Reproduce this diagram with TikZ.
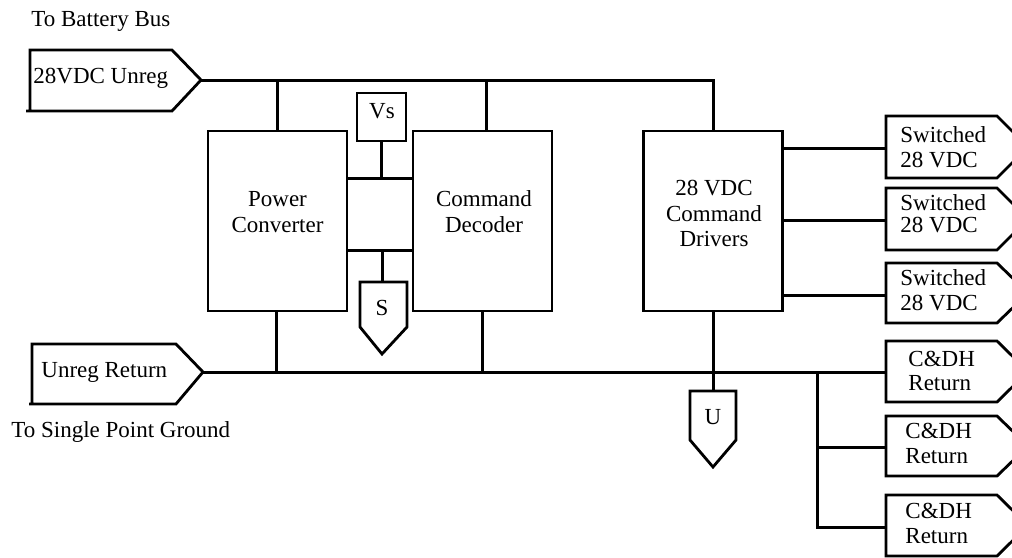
\documentclass[tikz,border=0pt]{standalone}
\usepackage{fontspec}
\setmainfont{Liberation Serif}
\begin{document}
\begin{tikzpicture}[x=1pt,y=-1pt, line width=2.8pt,
  box/.style={draw, rectangle, inner sep=0pt, line width=2.8pt},
  lbl/.style={font=\fontsize{23}{25}\selectfont, inner sep=0pt, anchor=base},
  lblw/.style={lbl, anchor=base west},
  wire/.style={line width=3pt},
  tag/.style={line width=2.8pt, line join=miter}]
\useasboundingbox (0,0) rectangle (1012,557);
\clip (0,0) rectangle (1012,557);

% ---------- blocks ----------
\node[box, minimum width=139pt, minimum height=180pt] (pc) at (277.5,221) {};
\node[box, minimum width=139pt, minimum height=180pt] (cd) at (482.5,221) {};
\node[box, minimum width=139pt, minimum height=180pt] (drv) at (713,221) {};
\node[box, minimum width=49pt, minimum height=48pt] (vs) at (381.5,117) {};

\node[lbl] (pc1) at (277.5,206) {Power};
\node[lbl] (pc2) at (277.5,232) {Converter};
\node[lbl] (cd1) at (484,206) {Command};
\node[lbl] (cd2) at (484,232) {Decoder};
\node[lbl] (dr1) at (714,195) {28 VDC};
\node[lbl] (dr2) at (714,221) {Command};
\node[lbl] (dr3) at (714,246) {Drivers};
\node[lbl] (vst) at (382,118) {Vs};

% ---------- connector tags ----------
% 28VDC Unreg (input, points right)
\draw[tag] (26,111) -- (172,111) -- (201,80) -- (172,50) -- (30,50) -- (30,111);
\coordinate (uin) at (201,80);
% Unreg Return
\draw[tag] (29,404) -- (176,404) -- (203,372) -- (176,344) -- (32,344) -- (32,404);
\coordinate (rin) at (203,372);
% S tag
\draw[tag] (360,282) -- (407,282) -- (407,327) -- (382,354) -- (360,327) -- cycle;
\coordinate (stop) at (382,282);
% U tag
\draw[tag] (690,391) -- (736,391) -- (736,440) -- (713,467) -- (690,440) -- cycle;
\coordinate (utop) at (713,391);
% Switched 28 VDC outputs
\draw[tag] (886,116) -- (997,116) -- (1028,147) -- (997,178) -- (886,178) -- cycle;
\draw[tag] (886,188) -- (997,188) -- (1028,219) -- (997,250) -- (886,250) -- cycle;
\draw[tag] (886,263) -- (997,263) -- (1028,293) -- (997,323) -- (886,323) -- cycle;
\coordinate (sw1) at (886,148);
\coordinate (sw2) at (886,220);
\coordinate (sw3) at (886,295);
% C&DH Return outputs
\draw[tag] (886,341) -- (997,341) -- (1028,371.5) -- (997,402) -- (886,402) -- cycle;
\draw[tag] (886,416) -- (997,416) -- (1028,446) -- (997,476) -- (886,476) -- cycle;
\draw[tag] (886,495) -- (997,495) -- (1028,525.5) -- (997,556) -- (886,556) -- cycle;
\coordinate (cr1) at (886,372);
\coordinate (cr2) at (886,447);
\coordinate (cr3) at (886,527);

% ---------- tag texts ----------
\node[lblw] (tbb) at (30,26) {To Battery Bus};
\node[lblw] (t28) at (32,83) {28VDC Unreg};
\node[lblw] (tur) at (40,377) {Unreg Return};
\node[lblw] (tsp) at (10,437) {To Single Point Ground};
\node[lbl] (ts) at (382,315) {S};
\node[lbl] (tu) at (713,424) {U};
\node[lblw] (s1a) at (899,142) {Switched};
\node[lblw] (s1b) at (899,167) {28 VDC};
\node[lblw] (s2a) at (899,210) {Switched};
\node[lblw] (s2b) at (899,232) {28 VDC};
\node[lblw] (s3a) at (899,285) {Switched};
\node[lblw] (s3b) at (899,310) {28 VDC};
\node[lblw] (c1a) at (907,366) {C\&DH};
\node[lblw] (c1b) at (907,390) {Return};
\node[lblw] (c2a) at (904,438) {C\&DH};
\node[lblw] (c2b) at (904,463) {Return};
\node[lblw] (c3a) at (904,518) {C\&DH};
\node[lblw] (c3b) at (904,543) {Return};

% ---------- wiring ----------
\coordinate (topend) at (drv.north |- uin);
\draw[wire] (uin) -- (topend) -- (drv.north);
\draw[wire] (pc.north) -- (pc.north |- uin);
\draw[wire] ([xshift=3.5pt]cd.north) -- ([xshift=3.5pt]cd.north |- uin);
\coordinate (vsj) at (vs.south |- 0,178);
\draw[wire] (pc.east |- vsj) -- (cd.west |- vsj);
\draw[wire] (vs.south) -- (vsj);
\coordinate (sj) at (stop |- 0,250);
\draw[wire] (pc.east |- sj) -- (cd.west |- sj);
\draw[wire] (sj) -- (stop);
\draw[wire] (rin) -- (cr1);
\draw[wire] ([xshift=-1.5pt]pc.south) -- ([xshift=-1.5pt]pc.south |- rin);
\draw[wire] (cd.south) -- (cd.south |- rin);
\draw[wire] (drv.south) -- (utop);
\coordinate (br) at (817,372);
\draw[wire] (br) -- (br |- cr3) -- (cr3);
\draw[wire] (br |- cr2) -- (cr2);
\draw[wire] (drv.east |- sw1) -- (sw1);
\draw[wire] (drv.east |- sw2) -- (sw2);
\draw[wire] (drv.east |- sw3) -- (sw3);
\end{tikzpicture}
\end{document}
